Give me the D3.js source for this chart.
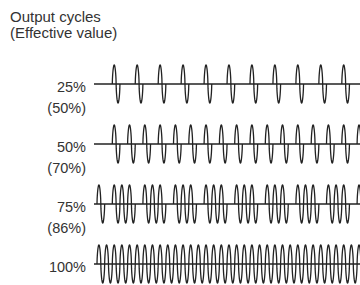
<!DOCTYPE html>
<html>
<head>
<meta charset="utf-8">
<script src="https://cdn.jsdelivr.net/npm/d3@7"></script>
<style>
  body { margin: 0; background: #fff; }
  text { font-family: "Liberation Sans", Arial, sans-serif; fill: #333; }
</style>
</head>
<body>
<div class="chart"></div>
<script>
// rows of the chart
const dutyLabels = ["25%", "50%", "75%", "100%"];
const effectiveLabels = ["(50%)", "(70%)", "(86%)", ""];

// which mains cycles are passed through (1) or blocked (0), read per row
const cycles25 = [0,0,1,0,0,1,0,0,1,0,0,1,0,0,1,0,0,1,0,0,1,0,0,1,0,0,1,0,0,1,0,0,1,0,0];
const cycles50 = [0,0,1,0,1,0,1,0,1,0,1,0,1,0,1,0,1,0,1,0,1,0,1,0,1,0,1,0,1,0,1,0,1,0,1];
const cycles75 = [1,0,1,1,1,0,1,1,1,0,1,1,1,0,1,1,1,0,1,1,1,0,1,1,1,0,1,1,1,0,1,1,1,0,1];
const cycles100 = [1,1,1,1,1,1,1,1,1,1,1,1,1,1,1,1,1,1,1,1,1,1,1,1,1,1,1,1,1,1,1,1,1,1,1];
const patterns = [cycles25, cycles50, cycles75, cycles100];

const width = 360, height = 285;

const svg = d3.select(".chart").append("svg")
  .attr("width", width)
  .attr("height", height);

const xScale = d3.scaleLinear()
  .domain([0, cycles100.length])
  .range([97, 97 + cycles100.length * 7.65]);

const yScale = d3.scalePoint()
  .domain(dutyLabels)
  .range([84, 264]);

const amp = d3.scaleLinear()
  .domain([-1, 1])
  .range([19, -19]);

// title
const title = svg.append("text")
  .attr("x", 10)
  .attr("y", 22)
  .style("font-size", "15px");
title.append("tspan").attr("x", 10).text("Output cycles");
title.append("tspan").attr("x", 10).attr("dy", 15.5).text("(Effective value)");

const line = d3.line()
  .x(d => d[0])
  .y(d => d[1]);

const rows = svg.selectAll(".row")
  .data(dutyLabels)
  .enter()
  .append("g")
  .attr("class", "row")
  .attr("transform", d => "translate(0," + yScale(d) + ")");

// baseline
rows.append("line")
  .attr("x1", 94)
  .attr("x2", width)
  .attr("stroke", "#222")
  .attr("stroke-width", 1.3);

// labels
rows.append("text")
  .attr("x", 86)
  .attr("y", 7.5)
  .attr("text-anchor", "end")
  .style("font-size", "14.5px")
  .text(d => d);

rows.append("text")
  .attr("x", 86)
  .attr("y", 28.5)
  .attr("text-anchor", "end")
  .style("font-size", "14.5px")
  .text((d, i) => effectiveLabels[i]);

// waves (lobes drawn a bit rounder than a plain sine, like the drawing)
rows.each(function(d, r) {
  const g = d3.select(this);
  patterns[r].forEach((on, i) => {
    if (!on) return;
    const pts = d3.range(0, 61).map(k => {
      const t = k / 60;
      const s = Math.sin(t * 2 * Math.PI);
      return [xScale(i + t), amp(Math.sign(s) * Math.pow(Math.abs(s), 0.6))];
    });
    g.append("path")
      .attr("d", line(pts))
      .attr("fill", "none")
      .attr("stroke", "#222")
      .attr("stroke-width", 1.3);
  });
});
</script>
</body>
</html>
